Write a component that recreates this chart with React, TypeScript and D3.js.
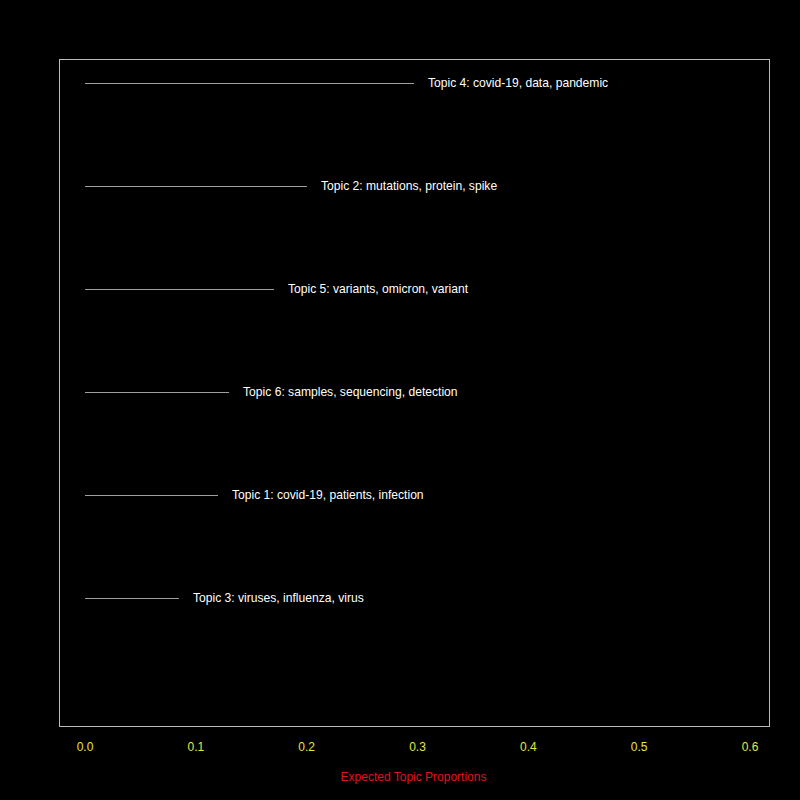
import React from "react";
import * as d3 from "d3";

const topics = [
  "Topic 3: viruses, influenza, virus",
  "Topic 1: covid-19, patients, infection",
  "Topic 6: samples, sequencing, detection",
  "Topic 5: variants, omicron, variant",
  "Topic 2: mutations, protein, spike",
  "Topic 4: covid-19, data, pandemic",
];
const proportions = [0.0848, 0.12, 0.13, 0.1705, 0.2003, 0.2968];
const xTicks = [0, 0.1, 0.2, 0.3, 0.4, 0.5, 0.6];

export default function App() {
  const width = 800;
  const height = 800;
  const box = { left: 59.5, right: 769.5, top: 59.5, bottom: 726.5 };

  const x = d3.scaleLinear().domain([0, 0.6]).range([85, 750]);
  const y = d3.scaleLinear().domain([-0.243, 6.233]).range([726, 59]);
  const font = "'Liberation Sans', Arial, Helvetica, sans-serif";

  return (
    <svg
      width={width}
      height={height}
      style={{ position: "absolute", left: 0, top: 0, background: "#000" }}
    >
      <rect width={width} height={height} fill="#000" />
      <rect
        x={box.left}
        y={box.top}
        width={box.right - box.left}
        height={box.bottom - box.top}
        fill="none"
        stroke="#bbbbbb"
        strokeWidth={1}
      />
      {topics.map((t, i) => {
        const yy = Math.round(y(i + 1)) + 0.5;
        return (
          <g key={t}>
            <line
              x1={x(0)}
              x2={x(proportions[i])}
              y1={yy}
              y2={yy}
              stroke="#a0a0a0"
              strokeWidth={1}
            />
            <text
              x={x(proportions[i]) + 14}
              y={yy - 1}
              dy="0.35em"
              fill="#ffffff"
              fontSize={12.1}
              fontFamily={font}
            >
              {t}
            </text>
          </g>
        );
      })}
      {xTicks.map((v) => (
        <text
          key={v}
          x={x(v)}
          y={751}
          textAnchor="middle"
          fill="#e6e63c"
          fontSize={12}
          fontFamily={font}
        >
          {d3.format(".1f")(v)}
        </text>
      ))}
      <text
        x={(box.left + box.right) / 2 - 1}
        y={781}
        textAnchor="middle"
        fill="#e0141e"
        fontSize={12}
        fontFamily={font}
      >
        Expected Topic Proportions
      </text>
    </svg>
  );
}
